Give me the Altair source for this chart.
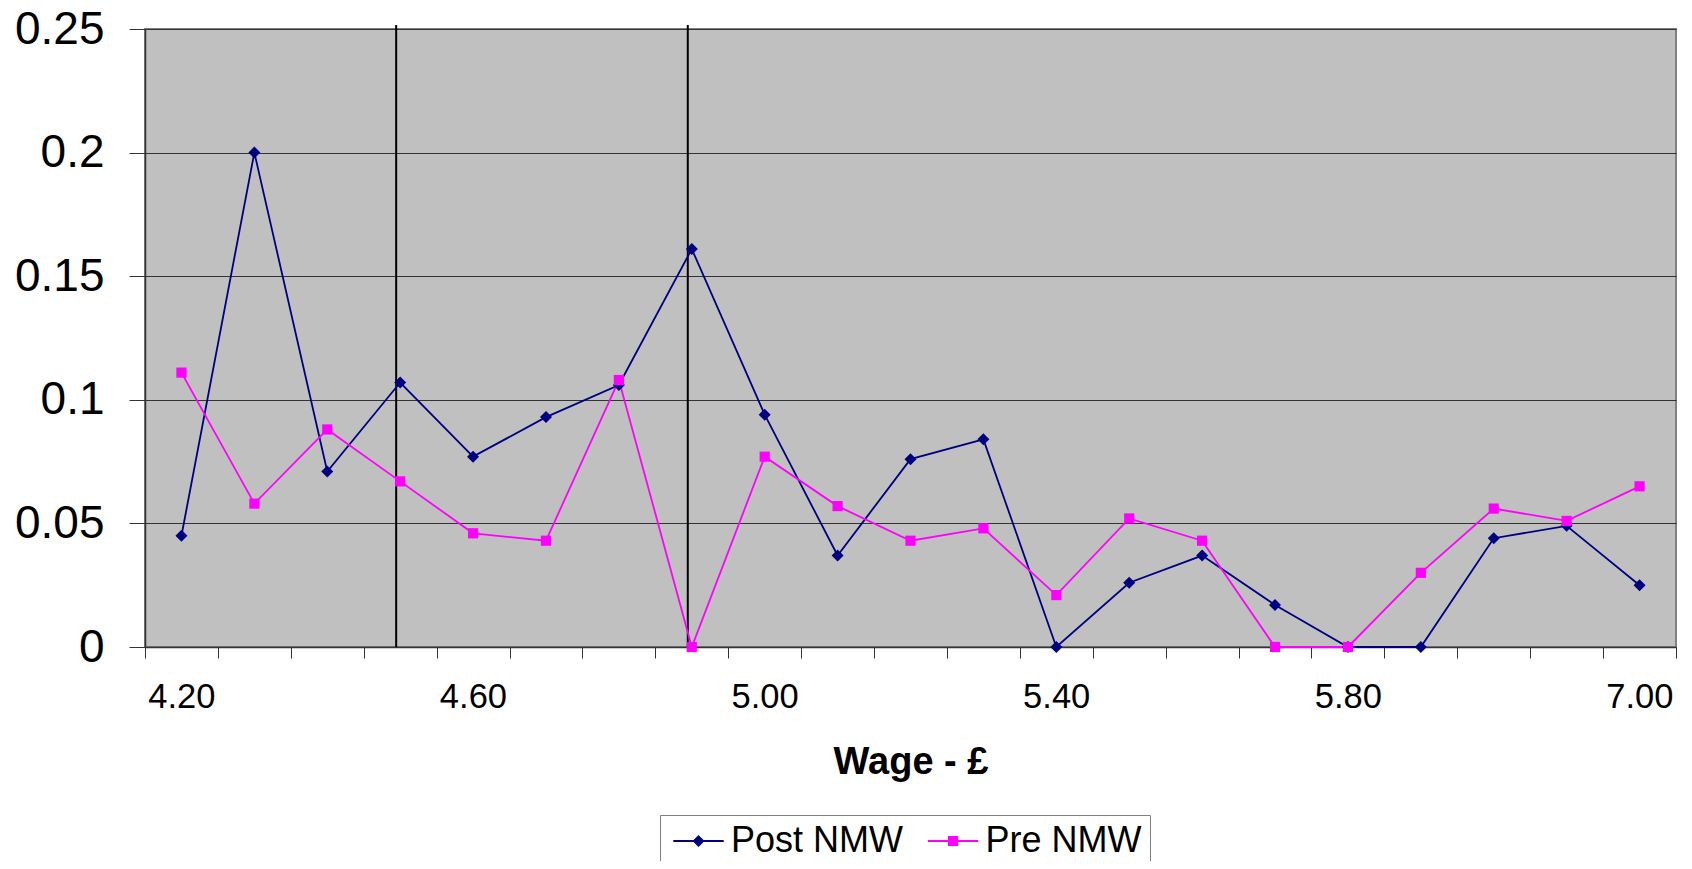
import altair as alt
import pandas as pd

# ---- data ----
wages = ["4.20", "4.30", "4.40", "4.50", "4.60", "4.70", "4.80", "4.90", "5.00",
         "5.10", "5.20", "5.30", "5.40", "5.50", "5.60", "5.70", "5.80", "5.90",
         "6.00", "6.50", "7.00"]
post_nmw = [0.045, 0.200, 0.071, 0.107, 0.077, 0.093, 0.106, 0.161, 0.094,
            0.037, 0.076, 0.084, 0.000, 0.026, 0.037, 0.017, 0.000, 0.000,
            0.044, 0.049, 0.025]
pre_nmw = [0.111, 0.058, 0.088, 0.067, 0.046, 0.043, 0.108, 0.000, 0.077,
           0.057, 0.043, 0.048, 0.021, 0.052, 0.043, 0.000, 0.000, 0.030,
           0.056, 0.051, 0.065]
series_names = ["Post NMW", "Pre NMW"]
series_colors = ["#000080", "#FF00FF"]
shown_labels = ["4.20", "4.60", "5.00", "5.40", "5.80", "7.00"]
marker_wages = ["4.50", "4.90"]
y_ticks = [0, 0.05, 0.1, 0.15, 0.2, 0.25]

# marker shapes for the plot, and marker + line shapes for the legend
diamond_path = "M0,-1L1,0L0,1L-1,0Z"
square_path = "M-0.85,-0.85L0.85,-0.85L0.85,0.85L-0.85,0.85Z"
bar = "M-4.2,-0.17L4.2,-0.17L4.2,0.17L-4.2,0.17Z"
legend_shapes = [bar + diamond_path, bar + square_path]

rows = []
for name, vals in zip(series_names, [post_nmw, pre_nmw]):
    for w, v in zip(wages, vals):
        rows.append({"wage": w, "value": v, "series": name})
df = pd.DataFrame(rows)
rules_df = pd.DataFrame({"wage": marker_wages})

FONT = "Liberation Sans"
PLOT_W = 1531
PLOT_H = 618
BAND = PLOT_W / len(wages)

x_scale = alt.Scale(domain=wages, paddingInner=0, paddingOuter=0)
x_enc = alt.X(
    "wage:N",
    sort=wages,
    scale=x_scale,
    axis=alt.Axis(
        title="Wage - £",
        labelAngle=0,
        tickBand="extent",
        tickSize=11,
        tickColor="#333333",
        domainColor="#333333",
        domainWidth=1.5,
        labelFont=FONT,
        labelFontSize=34.5,
        labelColor="black",
        labelBaseline="alphabetic",
        labelPadding=49.5,
        labelOffset=BAND / 2 - 3,
        labelExpr="indexof(" + str(shown_labels) + ", datum.label) >= 0 ? datum.label : ''",
        titleFont=FONT,
        titleFontSize=38,
        titleFontWeight="bold",
        titleColor="black",
        titleBaseline="alphabetic",
        titleY=126.5,
        grid=False,
    ),
)

y_scale = alt.Scale(domain=[0, 0.25], nice=False, zero=True)
y_axis = alt.Axis(
    title=None,
    values=y_ticks,
    format="~g",
    tickSize=16,
    tickColor="#333333",
    domainColor="#333333",
    domainWidth=1.5,
    labelFont=FONT,
    labelFontSize=46,
    labelColor="black",
    labelPadding=25,
    grid=True,
    gridColor="#333333",
    gridWidth=1,
)
y_enc = alt.Y("value:Q", scale=y_scale, axis=y_axis)


def color_enc(legend=None):
    return alt.Color("series:N", scale=alt.Scale(domain=series_names, range=series_colors),
                     legend=legend)


rules = alt.Chart(rules_df).mark_rule(
    color="black", strokeWidth=2, xOffset=-4, y2Offset=-4
).encode(
    x=alt.X("wage:N", sort=wages, scale=x_scale),
    y=alt.datum(0, scale=y_scale),
    y2=alt.datum(0.25),
)

lines = alt.Chart(df).mark_line(strokeWidth=1.8).encode(
    x=x_enc,
    y=y_enc,
    color=color_enc(),
    detail="series:N",
)

points = alt.Chart(df).mark_point(filled=True, size=144, opacity=1).encode(
    x=x_enc,
    y=y_enc,
    color=color_enc(),
    shape=alt.Shape("series:N",
                    scale=alt.Scale(domain=series_names, range=[diamond_path, square_path]),
                    legend=None),
)

legend_kw = dict(
    title=None,
    orient="none",
    legendX=515,
    legendY=786,
    direction="horizontal",
    padding=8,
    symbolSize=144,
    symbolOffset=12.5,
    symbolStrokeWidth=0,
    symbolOpacity=1,
    labelOffset=14.5,
    columnPadding=18.5,
    labelFont=FONT,
    labelFontSize=36,
    labelColor="black",
    labelLimit=400,
    strokeColor="#808080",
    fillColor="white",
)

legend_layer = alt.Chart(df).transform_filter(
    alt.datum.value < 0
).mark_point(filled=True, size=144, opacity=1).encode(
    x=x_enc,
    y=y_enc,
    color=color_enc(alt.Legend(**legend_kw)),
    shape=alt.Shape("series:N",
                    scale=alt.Scale(domain=series_names, range=legend_shapes),
                    legend=alt.Legend(**legend_kw)),
)

chart = alt.layer(rules, lines, points, legend_layer).resolve_scale(
    color="independent", shape="independent"
).properties(
    width=PLOT_W,
    height=PLOT_H,
    padding={"left": 137, "top": 21, "right": 8, "bottom": 214},
    autosize=alt.AutoSizeParams(type="none"),
    background="white",
).configure_view(
    fill="#C0C0C0",
    stroke="#808080",
    strokeWidth=2,
)

chart.save("out.html", embed_options={"renderer": "svg", "actions": False})
